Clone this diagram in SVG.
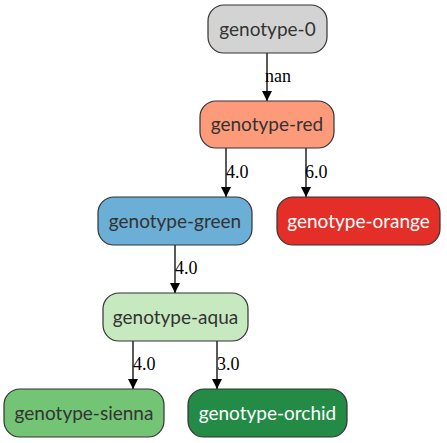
<svg xmlns="http://www.w3.org/2000/svg" width="447" height="443" viewBox="0 0 447 443">
<defs>
<style>
.n rect{stroke:#333;stroke-width:1.2}
.e line{stroke:#000;stroke-width:1.3}
</style>
<marker id="a" viewBox="0 0 10 10" refX="10" refY="5" markerWidth="10" markerHeight="13" markerUnits="userSpaceOnUse" orient="auto">
<path d="M0,0 L10,5 L0,10 Z" fill="#000"/>
</marker>
</defs>
<rect width="447" height="443" fill="#fff"/>
<g id="edges" class="e" font-family="Liberation Serif, DejaVu Serif, serif" font-size="18" fill="#000">
<line x1="267" y1="53" x2="267" y2="101" marker-end="url(#a)"/>
<text x="265" y="82">nan</text>
<line x1="226" y1="148" x2="226" y2="197" marker-end="url(#a)"/>
<text x="226" y="178">4.0</text>
<line x1="306" y1="148" x2="306" y2="197" marker-end="url(#a)"/>
<text x="305" y="178">6.0</text>
<line x1="175" y1="245" x2="175" y2="293" marker-end="url(#a)"/>
<text x="175" y="274">4.0</text>
<line x1="133" y1="341" x2="133" y2="389" marker-end="url(#a)"/>
<text x="133" y="370">4.0</text>
<line x1="217" y1="341" x2="217" y2="389" marker-end="url(#a)"/>
<text x="217" y="370">3.0</text>
</g>
<g font-family="Lato, Open Sans, sans-serif" font-size="19" text-anchor="middle" fill="#333">
<g id="genotype-0" class="n"><rect x="208" y="5" width="119" height="48" rx="16" fill="#d3d3d3"/><text x="267.5" y="35.5">genotype-0</text></g>
<g id="genotype-red" class="n"><rect x="200" y="101" width="134" height="47" rx="16" fill="#fc9a7a"/><text x="267" y="131">genotype-red</text></g>
<g id="genotype-green" class="n"><rect x="98" y="197" width="154" height="48" rx="16" fill="#6baed6"/><text x="175" y="227.5">genotype-green</text></g>
<g id="genotype-orange" class="n"><rect x="277" y="197" width="163" height="48" rx="16" fill="#e32f27"/><text fill="#fff" x="358.5" y="227.5">genotype-orange</text></g>
<g id="genotype-aqua" class="n"><rect x="103" y="293" width="145" height="48" rx="16" fill="#c7e9c0"/><text x="175.5" y="323.5">genotype-aqua</text></g>
<g id="genotype-sienna" class="n"><rect x="4" y="389" width="160" height="48" rx="16" fill="#74c476"/><text x="84" y="419.5">genotype-sienna</text></g>
<g id="genotype-orchid" class="n"><rect x="188" y="389" width="159" height="48" rx="16" fill="#238b45"/><text fill="#fff" x="267.5" y="419.5">genotype-orchid</text></g>
</g>
</svg>
